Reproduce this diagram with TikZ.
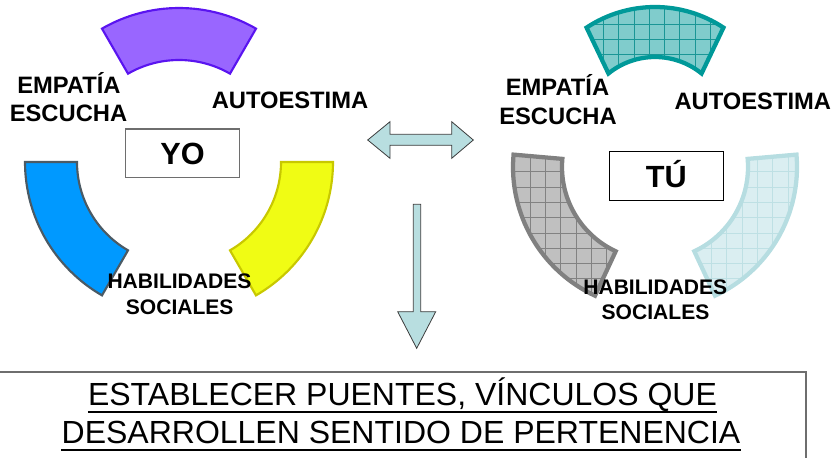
\documentclass[tikz,border=0pt]{standalone}
\usepackage{fontspec}
\setmainfont{Liberation Sans}
\definecolor{purfill}{RGB}{153,102,255}
\definecolor{purline}{RGB}{90,20,240}
\definecolor{bluefill}{RGB}{0,153,255}
\definecolor{blueline}{RGB}{75,90,100}
\definecolor{yelfill}{RGB}{240,252,20}
\definecolor{yelline}{RGB}{200,200,0}
\definecolor{tealfill}{RGB}{128,204,204}
\definecolor{tealline}{RGB}{0,153,153}
\definecolor{tealgrid}{RGB}{26,150,150}
\definecolor{greyfill}{RGB}{192,192,192}
\definecolor{greyline}{RGB}{128,128,128}
\definecolor{greygrid}{RGB}{130,130,130}
\definecolor{ltfill}{RGB}{218,238,241}
\definecolor{ltline}{RGB}{182,221,225}
\definecolor{ltgrid}{RGB}{190,224,228}
\definecolor{arrowfill}{RGB}{184,222,224}
\definecolor{arrowline}{RGB}{60,60,60}
\definecolor{boxgrey}{RGB}{110,110,110}
\newcommand\segpath[8]{([shift={(#5:#3)}]#1,#2) arc[start angle=#5,end angle=#6,radius=#3] -- ([shift={(#7:#4)}]#1,#2) arc[start angle=#7,end angle=#8,radius=#4] -- cycle}
\begin{document}
\begin{tikzpicture}[x=0.75pt,y=0.75pt,
  lbl/.style={font=\bfseries\fontsize{17.8}{21}\selectfont, inner sep=0pt, anchor=base},
  hab/.style={font=\bfseries\fontsize{15.8}{19}\selectfont, inner sep=0pt, anchor=base},
  whobox/.style={draw=#1, line width=0.8pt, minimum width=85.3pt, minimum height=36.6pt,
     inner sep=0pt, font=\bfseries\fontsize{23}{27}\selectfont, text height=16.5pt, text depth=0pt},
  bigtxt/.style={font=\fontsize{24}{28}\selectfont, inner sep=0pt, anchor=base},
  uline/.style={line width=1.5pt},
  leftseg/.style={line width=1.6pt, line join=miter},
  rightseg/.style={line width=3.2pt, line join=miter},
  gridline/.style={line width=0.5pt},
  blockarrow/.style={fill=arrowfill, draw=arrowline, line width=0.6pt, line join=miter},
]
\useasboundingbox (0,0) rectangle (834,-457);

% ---------- left ring (YO) ----------
\draw[leftseg, fill=purfill, draw=purline] \segpath{179}{-162}{154}{102}{120}{60}{60}{120};
\draw[leftseg, fill=bluefill, draw=blueline] \segpath{179}{-162}{154}{102}{180}{240}{240}{180};
\draw[leftseg, fill=yelfill, draw=yelline] \segpath{179}{-162}{154}{102}{300}{360}{360}{300};

% ---------- right ring (TU) ----------
\fill[tealfill] \segpath{655}{-131}{124}{74}{123.5}{56.5}{51}{129};
\begin{scope}
  \clip \segpath{655}{-131}{124}{74}{123.5}{56.5}{51}{129};
  \foreach \i in {-3,...,9} \draw[gridline, tealgrid] ({603.3+15.3*\i},0) -- ({603.3+15.3*\i},-90);
  \foreach \i in {-2,...,4} \draw[gridline, tealgrid] (570,{-24-15.3*\i}) -- (740,{-24-15.3*\i});
\end{scope}
\draw[rightseg, draw=tealline] \segpath{655}{-131}{124}{74}{123.5}{56.5}{51}{129};

\fill[greyfill] \segpath{655}{-167}{142}{93}{175}{245}{245}{175};
\begin{scope}
  \clip \segpath{655}{-167}{142}{93}{175}{245}{245}{175};
  \foreach \i in {-3,...,7} \draw[gridline, greygrid] ({530+15.3*\i},-140) -- ({530+15.3*\i},-310);
  \foreach \i in {-2,...,10} \draw[gridline, greygrid] (500,{-171.7-15.3*\i}) -- (630,{-171.7-15.3*\i});
\end{scope}
\draw[rightseg, draw=greyline] \segpath{655}{-167}{142}{93}{175}{245}{245}{175};

\fill[ltfill] \segpath{655}{-167}{142}{93}{295}{365}{365}{295};
\begin{scope}
  \clip \segpath{655}{-167}{142}{93}{295}{365}{365}{295};
  \foreach \i in {-8,...,3} \draw[gridline, ltgrid] ({757.3+15.3*\i},-140) -- ({757.3+15.3*\i},-310);
  \foreach \i in {-2,...,10} \draw[gridline, ltgrid] (680,{-171.7-15.3*\i}) -- (810,{-171.7-15.3*\i});
\end{scope}
\draw[rightseg, draw=ltline] \segpath{655}{-167}{142}{93}{295}{365}{365}{295};

% ---------- labels left ----------
\node[lbl] (empL) at (68.9,-93.3) {EMPATÍA};
\node[lbl] (escL) at (68.5,-121.7) {ESCUCHA};
\node[lbl] (autL) at (290,-108.3) {AUTOESTIMA};
\node[hab] (habL) at (179.5,-288.3) {HABILIDADES};
\node[hab] (socL) at (179.7,-314.3) {SOCIALES};
\node[whobox=boxgrey] (yo) at (182.5,-153.4) {YO};

% ---------- labels right ----------
\node[lbl] (empR) at (557.5,-95) {EMPATÍA};
\node[lbl] (escR) at (558,-124) {ESCUCHA};
\node[lbl] (autR) at (752.8,-109.3) {AUTOESTIMA};
\node[hab] (habR) at (655.3,-294) {HABILIDADES};
\node[hab] (socR) at (655.5,-319.3) {SOCIALES};
\node[whobox=black] (tu) at (666.3,-176.2) {TÚ};

% ---------- block arrows ----------
\draw[blockarrow] (367.7,-140) -- (390,-121.7) -- (390,-134.3) -- (451.7,-134.3) -- (451.7,-121.7)
  -- (473.3,-140) -- (451.7,-158.3) -- (451.7,-145.3) -- (390,-145.3) -- (390,-158.3) -- cycle;
\draw[blockarrow] (413.3,-204.3) -- (420.7,-204.3) -- (420.7,-311.7) -- (435.7,-311.7) -- (416.7,-348.3)
  -- (397.7,-311.7) -- (413.3,-311.7) -- cycle;

% ---------- bottom box ----------
\draw[draw=boxgrey, line width=1.5pt] (-5,-371.7) rectangle (806,-475);
\node[bigtxt] (l1) at (402.5,-405) {ESTABLECER PUENTES, VÍNCULOS QUE};
\node[bigtxt] (l2) at (401,-443.3) {DESARROLLEN SENTIDO DE PERTENENCIA};
\draw[uline] ([yshift=-5pt]l1.base west) -- ([yshift=-5pt]l1.base east);
\draw[uline] ([yshift=-5pt]l2.base west) -- ([yshift=-5pt]l2.base east);
\end{tikzpicture}
\end{document}
